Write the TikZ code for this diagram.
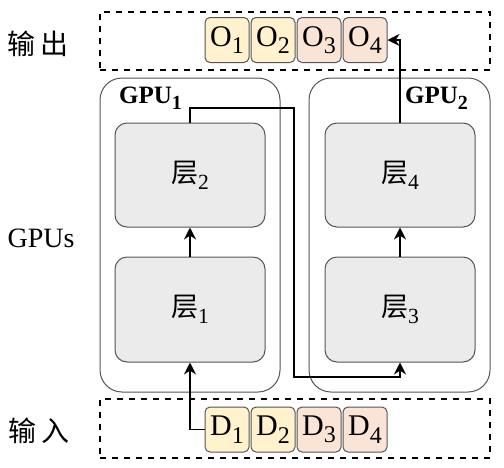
\documentclass[tikz,border=0pt]{standalone}
\usepackage{fontspec}
\setmainfont{Liberation Serif}
\newfontfamily\cjk{Noto Sans CJK SC}
\usepackage{graphicx}
\usepackage{xcolor}
\definecolor{cellyel}{RGB}{255,242,204}
\definecolor{cellora}{RGB}{250,228,214}
\definecolor{layergray}{RGB}{235,235,235}
\definecolor{edgegray}{RGB}{85,85,85}
\usetikzlibrary{positioning,arrows.meta}
\newcommand{\lsub}[1]{\raisebox{-0.55ex}{\scalebox{0.8}{#1}}}

\begin{document}
\begin{tikzpicture}[
  x=0.5pt, y=-0.5pt,
  font=\fontsize{15}{18}\selectfont,
  frame/.style={draw, dashed, line width=0.6pt, minimum width=195pt, inner sep=0pt},
  cell/.style={draw=edgegray, rounded corners=2.5pt, line width=0.5pt,
               minimum width=22pt, minimum height=22.5pt, inner sep=0pt},
  ycell/.style={cell, fill=cellyel},
  ocell/.style={cell, fill=cellora},
  gpubox/.style={draw=edgegray, rounded corners=11pt, line width=0.5pt,
                 minimum height=157pt, inner sep=0pt},
  layer/.style={draw=edgegray, fill=layergray, rounded corners=6pt, line width=0.5pt,
                minimum width=75pt, minimum height=52pt, inner sep=0pt,
                font=\fontsize{13.5}{16}\selectfont},
  side/.style={font=\fontsize{14}{17}\selectfont},
  conn/.style={-{Stealth[length=6pt,width=6pt]}, line width=0.7pt}
]
\useasboundingbox (0,0) rectangle (504,467);

%% output row
\node (outbox) [frame, minimum height=29pt] at (295,41) {};
\node (o1) [ycell] at (227,40) {O\lsub{1}};
\node (o2) [ycell, right=0.5pt of o1] {O\lsub{2}};
\node (o3) [ocell, right=0.5pt of o2] {O\lsub{3}};
\node (o4) [ocell, right=0.5pt of o3] {O\lsub{4}};

%% input row
\node (inbox) [frame, minimum height=29.5pt] at (295,428.5) {};
\node (d1) [ycell] at (227,429.5) {D\lsub{1}};
\node (d2) [ycell, right=0.5pt of d1] {D\lsub{2}};
\node (d3) [ocell, right=0.5pt of d2] {D\lsub{3}};
\node (d4) [ocell, right=0.5pt of d3] {D\lsub{4}};

%% GPUs and layers
\node (gpu1) [gpubox, minimum width=90pt] at (190,235) {};
\node (gpu2) [gpubox, minimum width=90.5pt] at (399.5,235) {};
\node (gpu1lbl) [anchor=base west, font=\fontsize{12.5}{15}\selectfont\bfseries]
  at (112,103) {GPU\lsub{1}};
\node (gpu2lbl) [anchor=base east, font=\fontsize{12.5}{15}\selectfont\bfseries]
  at (475,103) {GPU\lsub{2}};

\node (l2) [layer] at (190,175) {{\cjk 层}\lsub{2}};
\node (l1) [layer, minimum height=52.5pt] at (190,309.5) {{\cjk 层}\lsub{1}};
\node (l4) [layer] at (400,175) {{\cjk 层}\lsub{4}};
\node (l3) [layer, minimum height=52.5pt] at (400,309.5) {{\cjk 层}\lsub{3}};

%% row labels
\node (outlbl) [side] at (38,44) {\cjk 输\,出};
\node (gpulbl) [font=\fontsize{14}{17}\selectfont] at (41,238) {GPUs};
\node (inlbl) [side] at (39,431) {\cjk 输\,入};

%% data flow
\coordinate (hopA) at (294,108);
\coordinate (hopB) at (294,377);
\draw [conn] (d1.west) -| (l1.south);
\draw [conn] (l1.north) -- (l2.south);
\draw [conn] (l2.north) |- (hopA) -- (hopB) -| (l3.south);
\draw [conn] (l3.north) -- (l4.south);
\draw [conn] (l4.north) |- (o4.east);

\end{tikzpicture}
\end{document}
